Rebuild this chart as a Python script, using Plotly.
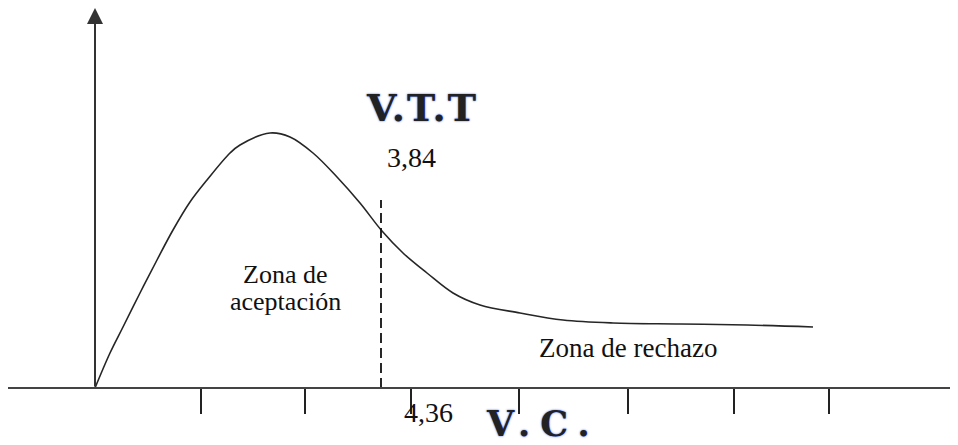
import plotly.graph_objects as go

# ---- data (sketch units: x to the right of the origin, y above the horizontal axis) ----
curve_x = [0, 15, 28, 45, 62, 78, 95, 112, 135, 145, 175, 195, 218, 242, 265, 287,
           308, 332, 358, 385, 425, 468, 518, 585, 652, 718]
curve_y = [0, 35, 61, 95, 128, 158, 186, 208, 235, 243, 255, 251, 235, 211, 185, 157,
           135, 115, 95, 83, 75, 68, 65, 64, 63, 61]
tick_x = [106, 210, 316, 424, 533, 639, 734]
critical_x = 286
critical_top = 188
axis_top = 380

vtt_label = "V.T.T"
vtt_value = "3,84"
vc_label = "V.C."
vc_value = "4,36"
accept_lines = ["Zona de", "aceptación"]
reject_label = "Zona de rechazo"

fig = go.Figure()

fig.add_trace(go.Scatter(
    x=curve_x, y=curve_y, mode="lines",
    line=dict(color="#262626", width=1.6, shape="spline", smoothing=1.0),
    hoverinfo="skip", showlegend=False))

fig.add_trace(go.Scatter(
    x=[critical_x, critical_x], y=[0, critical_top], mode="lines",
    line=dict(color="#111111", width=1.8, dash="10px,5px"),
    hoverinfo="skip", showlegend=False))

serif = "Liberation Serif"
bold = "DejaVu Serif"
glow = "0px 0px 2px #2255ff"


def spaced(text, px):
    return '<span style="letter-spacing:%dpx">%s</span>' % (px, text)


ann = [
    # vertical axis with arrow head
    dict(x=0, y=axis_top, ax=0, ay=0, axref="x", ayref="y", xref="x", yref="y",
         text="", showarrow=True, arrowhead=2, arrowsize=1.6, arrowwidth=2,
         arrowcolor="#333333"),
    dict(x=327, y=281, text=spaced(vtt_label, 2), showarrow=False,
         font=dict(family=bold, size=38, color="#222222", weight="bold", shadow=glow)),
    dict(x=316, y=231, text=vtt_value, showarrow=False,
         font=dict(family=serif, size=28, color="#111111")),
    dict(x=448, y=-35, text=spaced(vc_label, 10), showarrow=False,
         font=dict(family=bold, size=35, color="#222222", weight="bold", shadow=glow)),
    dict(x=333, y=-24, text=vc_value, showarrow=False,
         font=dict(family=serif, size=28, color="#111111")),
    dict(x=190, y=114, text=accept_lines[0], showarrow=False,
         font=dict(family=serif, size=26, color="#111111")),
    dict(x=190, y=87, text=accept_lines[1], showarrow=False,
         font=dict(family=serif, size=26, color="#111111")),
    dict(x=533, y=40, text=reject_label, showarrow=False,
         font=dict(family=serif, size=27, color="#111111")),
]

# the page body has an 8px margin; the figure is sized to fill the rest of the window
fig.update_layout(
    width=950, height=437,
    margin=dict(l=0, r=0, t=0, b=0),
    paper_bgcolor="white", plot_bgcolor="white",
    annotations=ann,
    xaxis=dict(range=[-87, 863], showgrid=False, zeroline=False,
               showticklabels=False, ticks="outside", ticklen=25, tickwidth=1.5,
               tickcolor="#222222", tickvals=tick_x,
               showline=True, linecolor="#444444", linewidth=2,
               anchor="free", position=57 / 437, fixedrange=True),
    yaxis=dict(range=[-57, 380], visible=False, fixedrange=True),
)

fig.write_html("out.html")
